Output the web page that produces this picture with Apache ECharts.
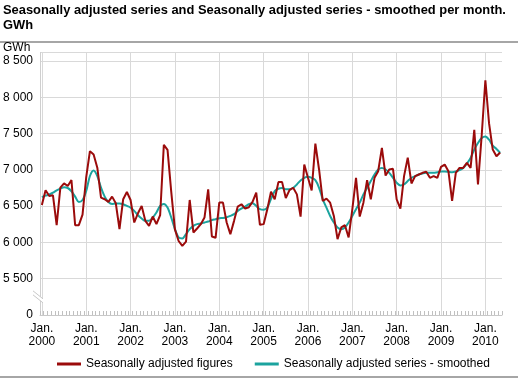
<!DOCTYPE html>
<html><head><meta charset="utf-8">
<script src="https://cdn.jsdelivr.net/npm/echarts@6/dist/echarts.min.js"></script>
<style>html,body{margin:0;padding:0;background:#fff}#c{width:518px;height:383px}</style>
</head><body><div id="c"></div>
<script>
const years = ['2000','2001','2002','2003','2004','2005','2006','2007','2008','2009','2010'];
const monthsIn2010 = 5;
const seriesNames = ['Seasonally adjusted figures', 'Seasonally adjusted series - smoothed'];

const adjusted = [
6517, 6718, 6640, 6650, 6238, 6755, 6814, 6777, 6860, 6238, 6238, 6384,
6900, 7258, 7212, 7030, 6617, 6595, 6558, 6631, 6540, 6183, 6595, 6695,
6585, 6275, 6402, 6503, 6297, 6229, 6357, 6252, 6375, 7345, 7275, 6700,
6180, 6020, 5952, 6010, 6585, 6137, 6192, 6252, 6343, 6732, 6082, 6064,
6549, 6549, 6275, 6114, 6297, 6494, 6526, 6467, 6485, 6558, 6686, 6243,
6252, 6458, 6700, 6594, 6831, 6831, 6612, 6721, 6753, 6662, 6356, 7073,
6890, 6717, 7361, 7005, 6571, 6603, 6548, 6365, 6046, 6206, 6237, 6069,
6457, 6890, 6356, 6548, 6858, 6594, 6890, 6982, 7301, 6922, 7005, 7014,
6594, 6466, 6913, 7169, 6813, 6913, 6936, 6959, 6973, 6890, 6913, 6890,
7041, 7073, 6982, 6571, 6959, 7027, 7027, 7096, 7027, 7552, 6799, 7470,
8235, 7640, 7280, 7188, 7240
];
const smoothed = [
6625, 6645, 6660, 6686, 6718, 6741, 6760, 6750, 6705, 6631, 6558, 6585,
6709, 6915, 6992, 6915, 6755, 6631, 6558, 6531, 6535, 6535, 6526, 6503,
6480, 6435, 6375, 6329, 6297, 6297, 6343, 6412, 6503, 6531, 6480, 6343,
6183, 6069, 6055, 6114, 6183, 6229, 6252, 6261, 6275, 6288, 6307, 6320,
6334, 6338, 6348, 6366, 6389, 6435, 6467, 6494, 6526, 6540, 6503, 6458,
6449, 6480, 6600, 6708, 6740, 6749, 6731, 6731, 6753, 6799, 6854, 6890,
6904, 6890, 6858, 6753, 6594, 6479, 6365, 6274, 6206, 6183, 6206, 6274,
6365, 6457, 6548, 6662, 6753, 6845, 6936, 7005, 7027, 7005, 6959, 6890,
6822, 6785, 6799, 6845, 6890, 6913, 6936, 6950, 6959, 6959, 6959, 6968,
6977, 6977, 6973, 6968, 6977, 6995, 7027, 7087, 7164, 7279, 7370, 7438,
7461, 7415, 7333, 7288, 7233
];

const categories = [];
years.forEach((y, yi) => {
  const n = yi === years.length - 1 ? monthsIn2010 : 12;
  for (let m = 1; m <= n; m++) categories.push(y + '-' + String(m).padStart(2, '0'));
});
const janCats = years.map(y => y + '-01');

const FONT = '"Liberation Sans", Arial, sans-serif';
const GRID_C = '#d9d9d9';
const RED = '#9b0b0b';
const TEAL = '#1ba39e';

function fmtNum(v) {
  return String(v).replace(/\B(?=(\d{3})+(?!\d))/g, ' ');
}

const chart = echarts.init(document.getElementById('c'), null, {renderer: 'canvas'});
chart.setOption({
  animation: false,
  backgroundColor: '#fff',
  textStyle: {fontFamily: FONT},
  title: {
    text: 'Seasonally adjusted series and Seasonally adjusted series - smoothed per month.\nGWh',
    left: 3, top: 3, padding: 0,
    textStyle: {fontFamily: FONT, fontSize: 12.9, fontWeight: 'bold', color: '#000', lineHeight: 15}
  },
  legend: {
    left: 57, top: 358, padding: 0,
    itemWidth: 24, itemHeight: 3, itemGap: 22,
    textStyle: {fontFamily: FONT, fontSize: 12, color: '#000'},
    data: [{name: seriesNames[0], icon: 'rect'}, {name: seriesNames[1], icon: 'rect'}]
  },
  grid: {left: 39, right: 16, top: 52.5, bottom: 68},
  xAxis: {
    type: 'category',
    data: categories,
    boundaryGap: true,
    axisLine: {show: true, lineStyle: {color: '#c8c8c8', width: 1}},
    axisTick: {show: true, inside: true, length: 4, interval: 0, lineStyle: {color: '#c0c0c0'}},
    splitLine: {show: false},
    axisLabel: {
      interval: (i) => i % 12 === 0,
      formatter: (v) => v.endsWith('-01') ? 'Jan.\n' + v.slice(0, 4) : '',
      color: '#000', fontFamily: FONT, fontSize: 12, lineHeight: 13, margin: 7
    }
  },
  yAxis: {
    type: 'value',
    min: 5000, max: 8617, interval: 500,
    axisLine: {show: true, lineStyle: {color: '#cfcfcf'}},
    axisTick: {show: false},
    splitLine: {show: true, lineStyle: {color: GRID_C, width: 1}},
    axisLabel: {
      showMaxLabel: false,
      formatter: (v) => v === 5000 ? '0' : (v % 500 ? '' : fmtNum(v)),
      color: '#000', fontFamily: FONT, fontSize: 12, margin: 7
    }
  },
  series: [
    {
      name: seriesNames[0], type: 'line', data: adjusted,
      symbol: 'none', z: 4,
      lineStyle: {color: RED, width: 2}, itemStyle: {color: RED}
    },
    {
      name: seriesNames[1], type: 'line', data: smoothed,
      symbol: 'none', smooth: 0.3, z: 3,
      lineStyle: {color: TEAL, width: 2}, itemStyle: {color: TEAL},
      markLine: {
        z: 1, silent: true, symbol: ['none', 'none'], animation: false,
        label: {show: false},
        lineStyle: {color: GRID_C, type: 'solid', width: 1},
        emphasis: {disabled: true},
        data: janCats.map(c => ({xAxis: c}))
      }
    }
  ]
});

// separators, unit label and axis break
const yb = chart.convertToPixel({yAxisIndex: 0}, 5250);
const ax = 39;
chart.setOption({
  graphic: [
    {type: 'line', shape: {x1: 0, y1: 42, x2: 518, y2: 42}, style: {stroke: '#a6a6a6', lineWidth: 2}},
    {type: 'line', shape: {x1: 0, y1: 377, x2: 518, y2: 377}, style: {stroke: '#a6a6a6', lineWidth: 2}},
    {type: 'text', left: 3, top: 42, style: {text: 'GWh', fontFamily: FONT, fontSize: 12, fill: '#000'}},
    {type: 'polygon', shape: {points: [[ax - 6, yb - 6], [ax + 4, yb + 2], [ax + 4, yb + 6], [ax - 6, yb - 2]]}, style: {fill: '#fff'}, z: 10},
    {type: 'line', shape: {x1: ax - 6, y1: yb - 6, x2: ax + 4, y2: yb + 2}, style: {stroke: '#c8c8c8', lineWidth: 1}, z: 11},
    {type: 'line', shape: {x1: ax - 6, y1: yb - 2, x2: ax + 4, y2: yb + 6}, style: {stroke: '#c8c8c8', lineWidth: 1}, z: 11}
  ]
});
</script>
</body></html>
